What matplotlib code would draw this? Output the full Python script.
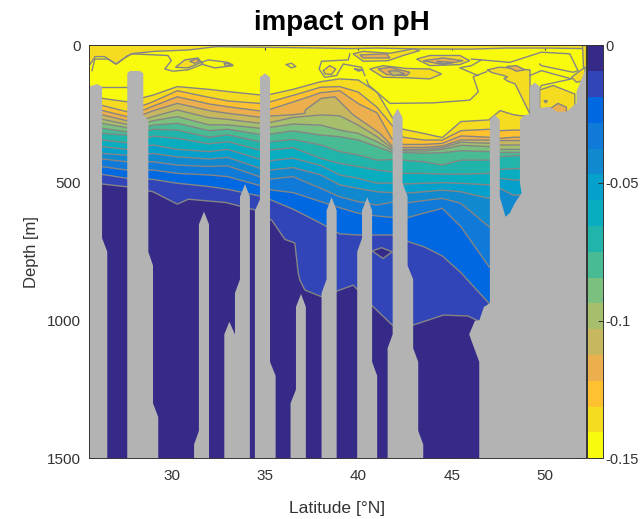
import matplotlib
matplotlib.use('Agg')
import matplotlib.pyplot as plt
from matplotlib.colors import ListedColormap, BoundaryNorm
from matplotlib.cm import ScalarMappable
import numpy as np

plt.rcParams['font.family'] = ['Liberation Sans', 'DejaVu Sans']

# band colours, shallow (most negative) to deep (0)
band_colors = ['#F9FB0E', '#F5DC20', '#FFC130', '#EBB04D', '#C7B860', '#A5BF6C', '#7CC080', '#48BB95',
               '#20B4AA', '#08AEC0', '#05A0CC', '#1089CF', '#107AD8', '#0068E0', '#3145B8', '#352A87']
level_values = [-0.15 + i * 0.15 / 16 for i in range(17)]

lats = [26.3, 27.6, 29, 30.3, 32, 33, 34.7, 35.3, 36.5, 38, 39, 40, 41, 41.8, 42.4, 43.5, 44.5, 45.5, 47, 47.6, 48.3, 48.7]
iso1 = [193, 205, 181, 150, 160, 168, 180, 178, 160, 132, 122, 126, 170, 260, 305, 320, 335, 277, 271, 237, 252, 256]
iso2 = [219, 241, 205, 165, 189, 202, 211, 205, 182, 152, 150, 170, 225, 290, 334, 344, 344, 310, 305, 310, 308, 308]
iso3 = [237, 259, 221, 187, 213, 223, 238, 232, 206, 172, 165, 212, 245, 340, 360, 360, 356, 329, 334, 338, 334, 334]
iso4_lat = [26.3, 27.6, 29, 30.3, 32, 33, 34.7, 35.3, 36.5, 37.14, 37.16, 38, 38.75, 39.73, 41.16, 41.8, 42.4, 43.5, 44.5, 45.5, 47, 47.6, 48.3, 48.7]
iso4 = [253, 274, 238, 211, 237, 247, 261, 257, 252, 247, 235, 193, 187, 253, 320, 365, 371, 371, 366, 344, 344, 346, 346, 346]
iso5 = [269, 287, 259, 235, 263, 269, 283, 280, 262, 253, 256, 290, 332, 373, 378, 378, 372, 352, 356, 362, 362, 362]
iso6 = [284, 299, 274, 259, 289, 289, 301, 298, 286, 290, 308, 320, 350, 380, 383, 384, 378, 363, 368, 378, 378, 378]
iso7 = [302, 314, 290, 283, 310, 305, 323, 322, 311, 326, 332, 344, 368, 388, 389, 392, 390, 383, 386, 389, 389, 389]
iso8 = [320, 326, 305, 308, 334, 325, 350, 350, 342, 362, 386, 398, 417, 415, 417, 423, 435, 417, 417, 405, 401, 401]
iso9 = [344, 354, 330, 338, 358, 350, 380, 380, 372, 411, 429, 441, 453, 460, 465, 465, 468, 468, 465, 451, 448, 448]
iso10 = [368, 378, 362, 378, 386, 378, 413, 419, 410, 437, 471, 483, 501, 500, 504, 501, 499, 501, 507, 483, 489, 489]
iso11 = [393, 399, 393, 405, 413, 407, 446, 453, 444, 471, 507, 520, 532, 535, 538, 532, 526, 532, 556, 520, 544, 544]
iso12 = [413, 423, 423, 435, 440, 438, 477, 486, 477, 520, 550, 568, 580, 570, 574, 564, 556, 574, 659, 671, 690, 690]
iso13 = [441, 453, 453, 465, 471, 477, 509, 525, 535, 568, 590, 610, 620, 625, 630, 610, 592, 659, 804, 820, 830, 830]
iso14 = [469, 483, 487, 501, 513, 523, 547, 561, 595, 647, 685, 689, 689, 689, 707, 731, 765, 826, 937, 950, 960, 960]
iso15_lat = [26.3, 27.6, 29, 30.3, 30.9, 32.9, 34.46, 35.36, 36.07, 36.6, 36.78, 36.87, 37.14, 38.03, 39.28, 39.73, 40.74, 41.82, 42.94, 44.55, 45.87, 46.4]
iso15 = [504, 514, 532, 577, 559, 571, 598, 635, 705, 718, 827, 853, 889, 913, 882, 871, 946, 1016, 1016, 980, 983, 1000]

surface_lat = [25.57, 25.9, 26.4, 27.0, 27.6, 27.9, 29.1, 30.9, 32.0, 32.4, 33.4, 36, 38, 39.6, 41, 43, 46, 48, 50, 52.2]
surface_depth = [75, 41, 41, 68, 41, 30, 22, 17, 8, 5, 6, 8, 10, 12, 10, 13, 14, 10, 10, 12]

# closed patches near the surface: (lat, depth, band index)
patch_right_block = ([46.9, 47.5, 47.7, 48.4, 49.2, 49.2, 48.4, 48.0, 47.8, 48.0, 47.8, 47.2], [90, 80, 80, 84, 90, 250, 140, 130, 120, 115, 110, 100], 1)
patch_right_low = ([49.72, 50.44, 51.6, 51.6, 49.72], [162, 146, 177, 300, 300], 1)
patch_right_edge = ([51.42, 52.13, 52.2, 51.68], [116, 80, 128, 134], 1)
patch_edge_strip = ([52.0, 52.2, 52.2, 52.05], [0, 0, 80, 80], 1)
patch_bump = ([50.26, 50.7, 51.15, 51.15, 50.44], [231, 211, 225, 250, 250], 3)
patch_tiny = ([49.95, 50.13, 50.04], [201, 201, 209], 3)
patch_lens1 = ([30.2, 30.7, 31.41, 31.59, 30.87], [80, 53, 46, 62, 82], 1)
patch_core1 = ([30.96, 31.32, 31.5, 31.23], [58, 50, 58, 65], 2)
patch_core2 = ([32.8, 33.28, 32.9], [65, 70, 76], 1)
patch_ring = ([38.12, 38.47, 38.8, 38.56, 38.21], [92, 74, 86, 106, 104], 1)
patch_a = ([39.72, 40.26, 41.69, 42.94, 43.29, 42.4, 41.6, 40.26], [31, 22, 29, 13, 19, 37, 56, 58], 1)
patch_a_core = ([40.08, 41.51, 41.69, 40.26], [35, 31, 46, 46], 3)
patch_b = ([40.62, 41.33, 42.58, 43.83, 44.46, 43.83, 42.58, 41.33], [86, 74, 84, 86, 104, 122, 118, 116], 1)
patch_b_core = ([41.06, 41.69, 42.76, 42.58, 41.51], [86, 80, 98, 110, 106], 3)
patch_b_inner = ([41.6, 42.04, 42.49, 41.87], [94, 92, 104, 110], 4)
patch_c = ([43.12, 43.83, 45.44, 45.97, 45.44, 43.83], [50, 37, 37, 56, 70, 74], 1)
patch_c_core = ([43.47, 44.55, 45.62, 44.55], [56, 46, 56, 70], 3)
patch_c_inner = ([44.19, 45.08, 44.55], [58, 62, 68], 4)
patch_blob = ([47.94, 48.47, 48.92, 48.47], [77, 74, 89, 94], 3)
patch_deep_loop = ([40.74, 41.24, 41.82, 41.33], [747, 735, 750, 774], 15)

# contour lines running inside the yellow band
line_a = ([25.73, 25.88, 26.59, 27.04, 27.57, 27.84, 29.8, 29.98, 29.63, 30.07, 30.88, 31.68], [92, 50, 50, 68, 41, 31, 37, 56, 86, 94, 89, 68])
line_b = ([31.59, 31.95, 33.02, 33.28, 32.3, 31.68, 31.59], [62, 53, 62, 74, 82, 70, 62])
line_c = ([36.15, 36.42, 36.65, 36.42, 36.15], [70, 65, 77, 82, 70])
line_d = ([39.55, 39.46, 38.03, 37.9, 38.2, 38.83, 39.19, 40.17, 40.35], [31, 53, 58, 86, 116, 110, 68, 80, 110])
line_e = ([39.81, 40.26, 40.0, 39.81], [86, 89, 94, 86])
line_f = ([40.45, 40.54, 41.7, 44.02, 45.98, 46.43, 46.16, 46.87], [126, 144, 211, 209, 199, 169, 114, 96])
line_g = ([46.06, 46.6, 46.06, 45.44, 46.42], [50, 53, 74, 82, 110])
line_h = ([46.6, 48.12, 49.81, 51.33, 51.77, 51.51, 49.81, 49.72], [53, 62, 25, 31, 92, 98, 74, 68])
line_i = ([49.19, 49.81, 51.42, 49.81, 49.72], [110, 92, 122, 146, 158])
line_j = ([26.27, 27.62], [150, 150])

# seabed outline between the casts
bar_a = ([25.57, 25.57, 26.0, 26.27, 26.27, 26.55, 26.55], [1500, 150, 141, 150, 700, 750, 1500])
bar_b = ([27.62, 27.62, 27.77, 28.3, 28.48, 28.48, 28.75, 28.75, 29.0, 29.0, 29.28, 29.28], [1500, 102, 93, 93, 102, 253, 271, 750, 800, 1300, 1350, 1500])
bar_c = ([31.2, 31.2, 31.46, 31.46, 31.73, 32.0, 32.0], [1500, 1450, 1400, 650, 604, 650, 1500])
bar_d = ([32.82, 32.82, 33.09, 33.39, 33.39, 33.66, 33.66, 33.93, 34.19, 34.19], [1500, 1050, 1004, 1050, 900, 850, 550, 504, 550, 1500])
bar_e = ([34.46, 34.46, 34.73, 34.73, 35.0, 35.27, 35.27, 35.57, 35.57], [1500, 600, 560, 116, 102, 116, 1150, 1200, 1500])
bar_f = ([36.37, 36.37, 36.66, 36.66, 36.93, 37.19, 37.19], [1500, 1300, 1250, 950, 903, 950, 1500])
bar_g = ([38.03, 38.03, 38.3, 38.3, 38.57, 38.84, 38.84], [1500, 900, 850, 600, 552, 600, 1500])
bar_h = ([39.94, 39.94, 40.2, 40.2, 40.48, 40.74, 40.74, 41.01, 41.01], [1500, 750, 700, 600, 552, 600, 1150, 1200, 1500])
bar_i = ([41.57, 41.57, 41.84, 41.84, 42.1, 42.37, 42.37, 42.64, 42.64, 42.94, 42.94, 43.21, 43.21, 43.48, 43.48],
         [1500, 1100, 1050, 262, 229, 262, 500, 550, 800, 850, 1100, 1150, 1400, 1450, 1500])
bar_j = ([46.48, 46.48, 45.94, 46.25, 46.48, 46.73, 47.05, 47.05, 47.32, 47.58, 47.58, 47.89, 48.12, 48.39, 48.75, 48.66, 48.66, 48.92, 49.19, 49.19, 49.46, 49.72, 49.72, 50.26, 50.62, 51.16, 51.69, 51.69, 52.2, 52.2],
         [1500, 1150, 1050, 1000, 1000, 950, 937, 271, 253, 271, 550, 623, 609, 573, 536, 500, 271, 253, 250, 150, 135, 150, 228, 223, 241, 241, 210, 169, 83, 1500])

LINE = '#858585'
GRAY = '#B3B3B3'
INK = '#333333'
XMIN, XMAX = 25.57, 52.2

W, H = 641, 519
fig = plt.figure(figsize=(W / 100, H / 100), dpi=100)
ax = fig.add_axes([89 / W, (H - 458.3) / H, (586 - 89) / W, 413 / H])
cax = fig.add_axes([586.5 / W, (H - 458.3) / H, 16.5 / W, 413 / H])

ax.set_facecolor(band_colors[0])
iso_layers = [(lats, iso1), (lats, iso2), (lats, iso3), (iso4_lat, iso4), (lats, iso5), (lats, iso6), (lats, iso7),
              (lats, iso8), (lats, iso9), (lats, iso10), (lats, iso11), (lats, iso12), (lats, iso13), (lats, iso14),
              (iso15_lat, iso15)]
for k, (lat, depth) in enumerate(iso_layers, start=1):
    xs = [XMIN] + list(lat) + [XMAX]
    ys = [depth[0]] + list(depth) + [depth[-1]]
    ax.fill(xs + [XMAX, XMIN], ys + [1500, 1500], color=band_colors[k], lw=0, zorder=k)
    ax.plot(xs, ys, color=LINE, lw=1.0, zorder=k + 0.5)

# surface band
ax.fill(surface_lat + [XMAX, XMIN], surface_depth + [0, 0], color=band_colors[1], lw=0, zorder=20)
ax.plot(surface_lat, surface_depth, color=LINE, lw=1.0, zorder=20.5)

patches = [patch_right_block, patch_right_low, patch_right_edge, patch_edge_strip, patch_bump, patch_tiny,
           patch_lens1, patch_core1, patch_core2, patch_ring, patch_a, patch_a_core, patch_b, patch_b_core,
           patch_b_inner, patch_c, patch_c_core, patch_c_inner, patch_blob, patch_deep_loop]
for lat, depth, band in patches:
    ax.fill(lat, depth, facecolor=band_colors[band], edgecolor=LINE, lw=1.0, zorder=21)

for lat, depth in [line_a, line_b, line_c, line_d, line_e, line_f, line_g, line_h, line_i, line_j]:
    ax.plot(lat, depth, color=LINE, lw=1.0, zorder=22)

for lat, depth in [bar_a, bar_b, bar_c, bar_d, bar_e, bar_f, bar_g, bar_h, bar_i, bar_j]:
    ax.fill(lat, depth, color=GRAY, lw=0, zorder=30)

ax.set_xlim(XMIN, XMAX)
ax.set_ylim(1500, 0)
ax.set_xticks([30, 35, 40, 45, 50])
ax.set_yticks([0, 500, 1000, 1500])
ax.set_yticklabels(['0', '500', '1000', '1500'])
ax.tick_params(direction='in', top=True, right=True, length=3.4, width=0.7, color=INK, labelsize=11,
               labelcolor=INK)
ax.tick_params(axis='x', pad=8)
ax.tick_params(axis='y', pad=6)
for s in ax.spines.values():
    s.set_color(INK)
    s.set_linewidth(0.7)
    s.set_zorder(40)
ax.set_xlabel('Latitude [°N]', fontsize=12.6, color=INK, labelpad=13)
ax.set_ylabel('Depth [m]', fontsize=12, color=INK, labelpad=5.5)
ax.set_title('impact on pH', fontsize=20, fontweight='bold', color='black', pad=11, x=0.508)

cmap = ListedColormap(band_colors)
norm = BoundaryNorm(level_values, cmap.N)
cb = fig.colorbar(ScalarMappable(norm=norm, cmap=cmap), cax=cax, ticks=[-0.15, -0.1, -0.05, 0], spacing='proportional', drawedges=False)
cb.minorticks_off()
cb.ax.set_yticklabels(['-0.15', '-0.1', '-0.05', '0'])
cb.ax.tick_params(which='both', direction='in', right=True, length=3.4, width=0.7, color=INK, labelsize=10.5, labelcolor=INK, pad=2)
cb.outline.set_edgecolor(INK)
cb.outline.set_linewidth(0.7)

fig.savefig('out.png', dpi=100)
